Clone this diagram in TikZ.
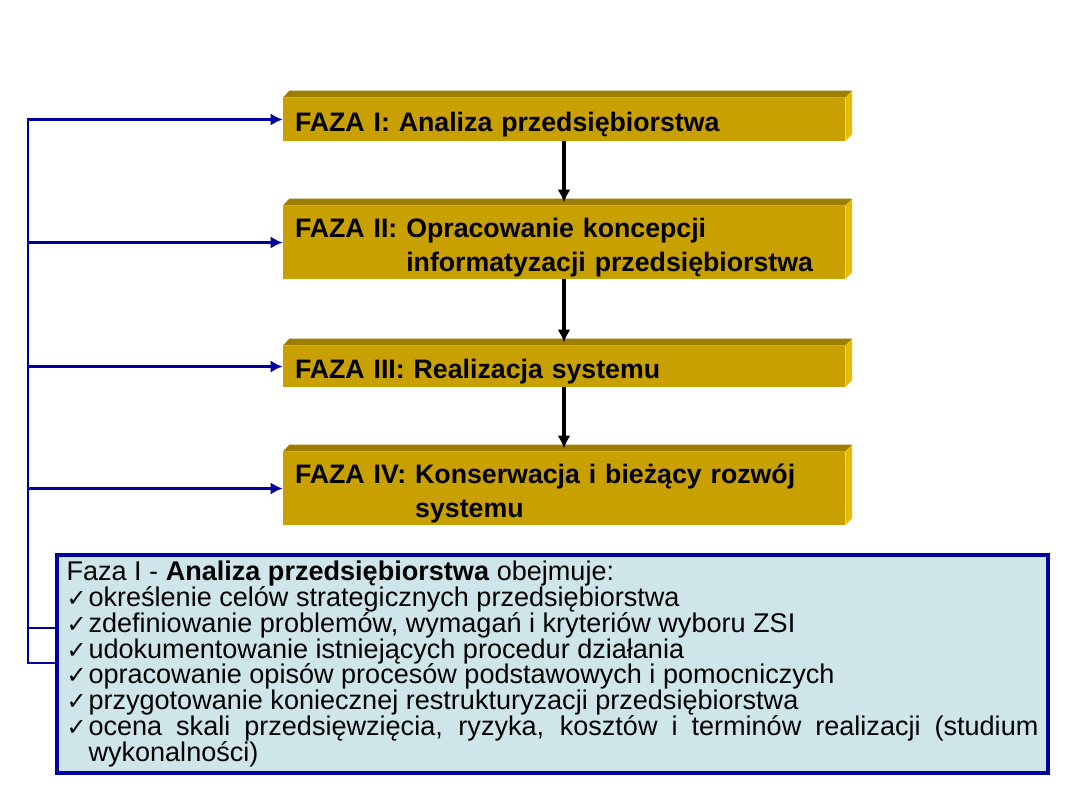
\documentclass[tikz,border=0pt]{standalone}
\usepackage{fontspec}
\setmainfont{Liberation Sans}
\newfontfamily\znakfont{DejaVu Sans}
\usepackage{tikz}
\usetikzlibrary{calc,arrows.meta}

\definecolor{zloty}{RGB}{200,160,0}
\definecolor{zlotyciemny}{RGB}{158,126,0}
\definecolor{zlotyjasny}{RGB}{232,186,0}
\definecolor{granat}{RGB}{0,0,160}
\definecolor{blekit}{RGB}{206,230,234}

\newcommand{\ptk}{\par\hangindent=0.55cm\hangafter=1\noindent\makebox[0.55cm][l]{\znakfont\fontsize{17}{17}\selectfont ✓}}

\begin{document}
\begin{tikzpicture}
		\tikzset{>={Latex[length=0.3cm,width=0.3cm]}}
		\tikzset{faza/.style={fill=zloty,minimum width=14.05cm,text width=13.45cm,inner xsep=0.3cm,inner ysep=0pt,align=left,font=\bfseries\fontsize{19}{23.5}\selectfont,execute at begin node={\rule{0pt}{21pt}}}}
		\tikzset{niebieska/.style={granat,line width=2.1pt}}
		
		\useasboundingbox (0,0) rectangle (27,-20.25);
		
		\node[faza,minimum height=1.075cm] (f1) at (14.1,-2.9875) {FAZA I: Analiza przedsiębiorstwa};
		\node[faza,minimum height=1.825cm] (f2) at (14.1,-6.0625) {FAZA II: Opracowanie koncepcji\\\hphantom{FAZA II: }informatyzacji przedsiębiorstwa};
		\node[faza,minimum height=1.025cm] (f3) at (14.1,-9.1625) {FAZA III: Realizacja systemu};
		\node[faza,minimum height=1.825cm] (f4) at (14.1,-12.2125) {FAZA IV: Konserwacja i bieżący rozwój\\\hphantom{FAZA IV: }systemu};
		
		\foreach \n in {f1,f2,f3,f4}{
			\fill[zlotyciemny] (\n.north west) -- ++(0.17,0.18) -- ($(\n.north east)+(0.17,0.18)$) -- (\n.north east) -- cycle;
			\fill[zlotyjasny] (\n.north east) -- ++(0.17,0.18) -- ($(\n.south east)+(0.17,0.18)$) -- (\n.south east) -- cycle;
		}
		
		\coordinate (t2) at ($(f2.north)+(0,0.08)$);
		\coordinate (t3) at ($(f3.north)+(0,0.08)$);
		\coordinate (t4) at ($(f4.north)+(0,0.08)$);
		\draw[-{Latex[length=0.32cm,width=0.32cm]},line width=2.2pt] (f1.south) -- (t2);
		\draw[-{Latex[length=0.32cm,width=0.32cm]},line width=2.2pt] (f2.south) -- (t3);
		\draw[-{Latex[length=0.32cm,width=0.32cm]},line width=2.2pt] (f3.south) -- (t4);
		
		\node[draw=granat,line width=3.3pt,fill=blekit,text width=24.3cm,inner xsep=0.2375cm,minimum height=5.45cm,align=justify,font=\fontsize{19.25}{18.3}\selectfont] (opis) at (13.8125,-16.6) {\hyphenpenalty=10000
			\noindent Faza I - \textbf{Analiza przedsiębiorstwa} obejmuje:
			\ptk określenie celów strategicznych przedsiębiorstwa
			\ptk zdefiniowanie problemów, wymagań i kryteriów wyboru ZSI
			\ptk udokumentowanie istniejących procedur działania
			\ptk opracowanie opisów procesów podstawowych i pomocniczych
			\ptk przygotowanie koniecznej restrukturyzacji przedsiębiorstwa
			\ptk ocena skali przedsięwzięcia, ryzyka, kosztów i terminów realizacji (studium wykonalności)\par};
		
		\coordinate (g) at (0.7,-2.9875);
		\coordinate (s1) at (0.7,-15.7);
		\coordinate (s2) at (0.7,-16.575);
		\draw[niebieska,->] (s2 -| opis.west) -- (s2) -- (g) -- (f1.west);
		\foreach \n in {f2,f3,f4}
			\draw[niebieska,->] (g |- \n.west) -- (\n.west);
		\draw[niebieska] (s1) -- (s1 -| opis.west);
		
	\end{tikzpicture}
\end{document}
